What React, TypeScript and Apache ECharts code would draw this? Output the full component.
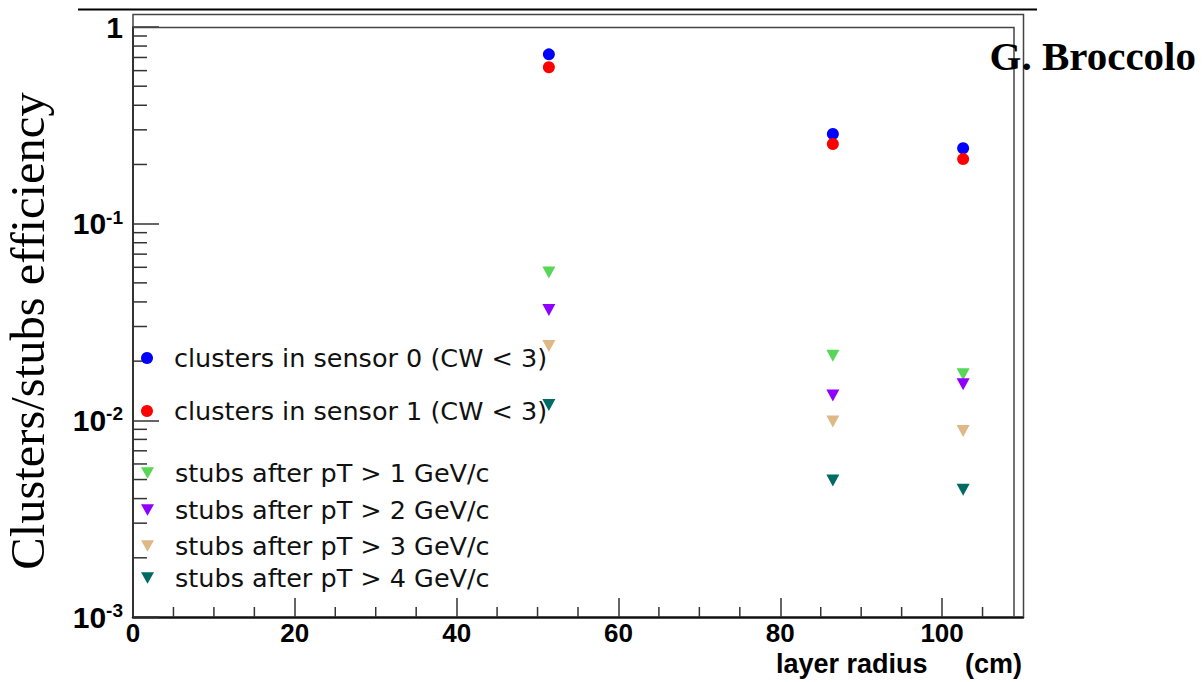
import React, { useEffect, useRef } from "react";
import * as echarts from "echarts";

// ---- data ----
const layerRadius = [51.4, 86.5, 102.6];
const sensor0 = [0.726, 0.286, 0.242];
const sensor1 = [0.624, 0.254, 0.213];
const stubsPt1 = [0.0564, 0.0213, 0.01715];
const stubsPt2 = [0.0364, 0.01336, 0.01525];
const stubsPt3 = [0.0239, 0.00985, 0.00883];
const stubsPt4 = [0.01197, 0.00494, 0.00443];

const seriesNames = [
  "clusters in sensor 0 (CW < 3)",
  "clusters in sensor 1 (CW < 3)",
  "stubs after pT > 1 GeV/c",
  "stubs after pT > 2 GeV/c",
  "stubs after pT > 3 GeV/c",
  "stubs after pT > 4 GeV/c",
];
const seriesValues = [sensor0, sensor1, stubsPt1, stubsPt2, stubsPt3, stubsPt4];
const seriesColors = ["#0000ff", "#ff0000", "#57d657", "#9000ff", "#deb887", "#006a64"];
const legendCenters = [358, 411, 473, 510, 546, 578];

// axis structure
const xMin = 0;
const xMax = 110;
const xMajor = 20;
const xMinorStep = 5;
const yMin = 0.001;
const yMax = 1;
const yDecades = [-3, -2, -1];
const yMinorMultipliers = [2, 3, 4, 5, 6, 7, 8, 9];

const xMinorTicks: number[] = [];
for (let v = xMinorStep; v < xMax; v += xMinorStep) {
  if (v % xMajor !== 0) xMinorTicks.push(v);
}
const yMinorTicks: number[] = [];
yDecades.forEach((k) => yMinorMultipliers.forEach((m) => yMinorTicks.push(m * Math.pow(10, k))));

const TRI_DOWN = "path://M0,0L10,0L5,9Z";

export default function App() {
  const ref = useRef<HTMLDivElement>(null);
  useEffect(() => {
    document.body.style.margin = "0";
    const chart = echarts.init(ref.current!, undefined, { renderer: "svg" });

    const scatterSeries = seriesNames.map((name, i) => {
      const isCluster = i < 2;
      return {
        name,
        type: "scatter",
        data: layerRadius.map((x, j) => [x, seriesValues[i][j]]),
        symbol: isCluster ? "circle" : "triangle",
        symbolRotate: isCluster ? 0 : 180,
        symbolSize: isCluster ? 12 : [13, 12],
        itemStyle: { color: seriesColors[i], opacity: 1 },
        z: 5 + i,
      };
    });

    const legends = seriesNames.map((name, i) => {
      const isCluster = i < 2;
      return {
        left: 141,
        top: legendCenters[i] - 13,
        orient: "vertical",
        padding: 0,
        itemGap: 0,
        itemWidth: isCluster ? 12 : 13,
        itemHeight: 12,
        selectedMode: false,
        data: [{ name, icon: isCluster ? "circle" : TRI_DOWN }],
        textStyle: {
          fontSize: 25.5,
          fontFamily: "DejaVu Sans",
          color: "#111",
          lineHeight: 26,
          padding: [0, 0, 0, 16],
        },
      };
    });

    const option: any = {
      animation: false,
      backgroundColor: "#fff",
      grid: { left: 133, right: 180, top: 27, bottom: 65 },
      legend: legends,
      xAxis: {
        type: "value",
        min: xMin,
        max: xMax,
        interval: xMajor,
        axisLine: { show: true, lineStyle: { color: "#111", width: 2.5 } },
        axisTick: { show: true, inside: true, length: 19, lineStyle: { color: "#333", width: 1.5 } },
        splitLine: { show: false },
        axisLabel: {
          showMaxLabel: false,
          margin: 5,
          fontSize: 26,
          lineHeight: 22,
          fontWeight: "bold",
          fontFamily: "Liberation Sans",
          color: "#000",
        },
      },
      yAxis: {
        type: "log",
        logBase: 10,
        min: yMin,
        max: yMax,
        axisLine: { show: true, lineStyle: { color: "#333", width: 2 } },
        axisTick: { show: true, inside: true, length: 26, lineStyle: { color: "#333", width: 1.5 } },
        splitLine: { show: false },
        axisLabel: {
          margin: 10,
          formatter: (v: number) => {
            const e = Math.round(Math.log10(v));
            if (e === 0) return "{b|1}";
            return `{b|10}{s|${e}}`;
          },
          rich: {
            b: { fontSize: 30, fontWeight: "bold", fontFamily: "Liberation Sans", color: "#000", lineHeight: 32 },
            s: {
              fontSize: 19,
              fontWeight: "bold",
              fontFamily: "Liberation Sans",
              color: "#000",
              lineHeight: 20,
              verticalAlign: "top",
            },
          },
        },
      },
      series: [
        ...scatterSeries,
        {
          type: "custom",
          name: "yMinor",
          silent: true,
          clip: false,
          data: yMinorTicks.map((v) => [xMin, v]),
          encode: { x: 0, y: 1 },
          renderItem: (params: any, api: any) => {
            const p = api.coord([api.value(0), api.value(1)]);
            return {
              type: "line",
              shape: { x1: p[0], y1: p[1], x2: p[0] + 14, y2: p[1] },
              style: { stroke: "#333", lineWidth: 1.5 },
            };
          },
        },
        {
          type: "custom",
          name: "xMinor",
          silent: true,
          clip: false,
          data: xMinorTicks.map((v) => [v, yMin]),
          encode: { x: 0, y: 1 },
          renderItem: (params: any, api: any) => {
            const p = api.coord([api.value(0), api.value(1)]);
            return {
              type: "line",
              shape: { x1: p[0], y1: p[1], x2: p[0], y2: p[1] - 10 },
              style: { stroke: "#333", lineWidth: 1.5 },
            };
          },
        },
      ],
      graphic: [
        {
          type: "line",
          shape: { x1: 78, y1: 9.5, x2: 1037, y2: 9.5 },
          style: { stroke: "#000", lineWidth: 2 },
          z: 1,
        },
        {
          type: "polyline",
          shape: { points: [[133, 27], [133, 14.5], [1023.5, 14.5], [1023.5, 617]] },
          style: { stroke: "#444", lineWidth: 1.5, fill: null },
          z: 1,
        },
        {
          type: "polyline",
          shape: { points: [[133, 27.5], [1014, 27.5], [1014, 617]] },
          style: { stroke: "#444", lineWidth: 1.5, fill: null },
          z: 1,
        },
        {
          type: "text",
          x: 27,
          y: 331,
          rotation: Math.PI / 2,
          style: {
            text: "Clusters/stubs efficiency",
            fontSize: 48.5,
            fontFamily: "Liberation Serif",
            fill: "#000",
            align: "center",
            verticalAlign: "middle",
          },
          z: 10,
        },
        {
          type: "text",
          x: 1022,
          y: 664,
          style: {
            text: "layer radius     (cm)",
            fontSize: 27,
            lineHeight: 20,
            fontWeight: "bold",
            fontFamily: "Liberation Sans",
            fill: "#000",
            align: "right",
            verticalAlign: "middle",
          },
          z: 10,
        },
        {
          type: "text",
          x: 1196,
          y: 56,
          style: {
            text: "G. Broccolo",
            fontSize: 41,
            fontWeight: "bold",
            fontFamily: "Liberation Serif",
            fill: "#000",
            align: "right",
            verticalAlign: "middle",
          },
          z: 10,
        },
      ],
    };

    chart.setOption(option);
    return () => chart.dispose();
  }, []);

  return <div ref={ref} style={{ width: 1203, height: 682 }} />;
}
